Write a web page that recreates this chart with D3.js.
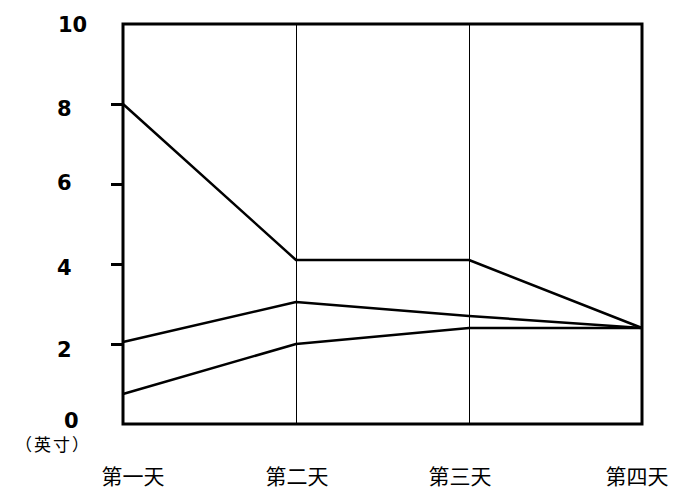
<!DOCTYPE html>
<html>
<head>
<meta charset="utf-8">
<script src="https://cdn.jsdelivr.net/npm/d3@7/dist/d3.min.js"></script>
<style>
  html, body { margin: 0; padding: 0; background: #fff; }
  svg { display: block; }
</style>
</head>
<body>
<script>
const categories = ["第一天", "第二天", "第三天", "第四天"];
const seriesA = [8.0, 4.1, 4.1, 2.4];
const seriesB = [2.05, 3.05, 2.7, 2.4];
const seriesC = [0.75, 2.0, 2.4, 2.4];
const yTicks = [0, 2, 4, 6, 8, 10];
const unitLabel = "（英寸）";

const W = 697, H = 504;
const svg = d3.select("body").append("svg").attr("width", W).attr("height", H);

const x = d3.scalePoint().domain(categories).range([123, 642]);
const y = d3.scaleLinear().domain([0, 10]).range([424, 24]);

// vertical grid lines at inner categories
svg.append("g").selectAll("line")
  .data(categories.slice(1, -1))
  .join("line")
  .attr("x1", d => x(d)).attr("x2", d => x(d))
  .attr("y1", y(10)).attr("y2", y(0))
  .attr("stroke", "#000").attr("stroke-width", 1)
  .attr("shape-rendering", "crispEdges");

// left ticks
const axis = d3.axisLeft(y).tickValues([2, 4, 6, 8]).tickSize(12).tickFormat("");
const ag = svg.append("g").attr("transform", `translate(${x(categories[0])},0)`).call(axis);
ag.select(".domain").remove();
ag.selectAll(".tick line").attr("stroke", "#000").attr("stroke-width", 3);

// frame
svg.append("rect")
  .attr("x", x(categories[0])).attr("y", y(10))
  .attr("width", x(categories[3]) - x(categories[0]))
  .attr("height", y(0) - y(10))
  .attr("fill", "none").attr("stroke", "#000").attr("stroke-width", 3);

// y labels
const labelDx = {0: 64, 10: 58};
const labelDy = {0: -4, 2: 5, 4: 3, 6: -2, 8: 4, 10: 0};
svg.append("g").selectAll("text")
  .data(yTicks)
  .join("text")
  .attr("x", d => labelDx[d] !== undefined ? labelDx[d] : 57)
  .attr("y", d => y(d) + labelDy[d])
  .attr("dy", "0.36em")
  .attr("font-family", "'DejaVu Sans', Verdana, sans-serif")
  .attr("font-weight", "bold")
  .attr("font-size", 21)
  .attr("fill", "#000")
  .text(d => d);

// unit label
svg.append("text")
  .attr("x", 15).attr("y", 445).attr("dy", "0.36em")
  .attr("text-anchor", "start")
  .attr("font-family", "'Noto Sans CJK SC', sans-serif")
  .attr("font-size", 17)
  .attr("letter-spacing", 2)
  .attr("fill", "#000")
  .text(unitLabel);

// x labels
const xLabelDx = [10, 1, -9, -5];
svg.append("g").selectAll("text")
  .data(categories)
  .join("text")
  .attr("x", (d, i) => x(d) + xLabelDx[i])
  .attr("y", 476).attr("dy", "0.36em")
  .attr("text-anchor", "middle")
  .attr("font-family", "'Noto Sans CJK SC', sans-serif")
  .attr("font-size", 21)
  .attr("fill", "#000")
  .text(d => d);

// lines
const line = d3.line().x((d, i) => x(categories[i])).y(d => y(d));
[seriesA, seriesB, seriesC].forEach(s => {
  svg.append("path")
    .attr("d", line(s))
    .attr("fill", "none")
    .attr("stroke", "#000")
    .attr("stroke-width", 2.5)
    .attr("stroke-linejoin", "round");
});
</script>
</body>
</html>
